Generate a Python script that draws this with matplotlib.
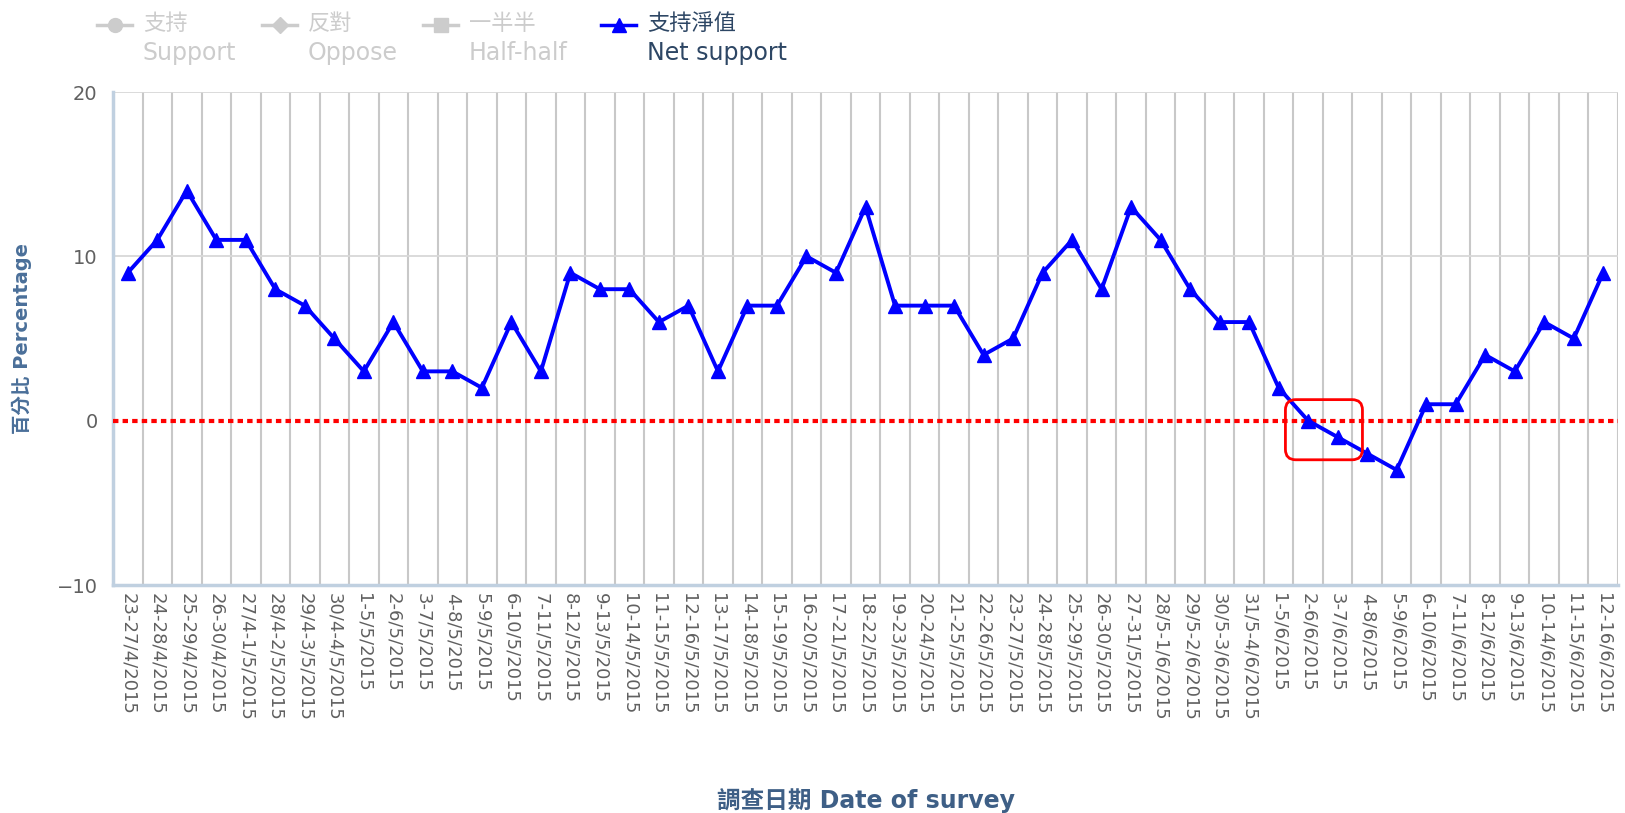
import numpy as np
import matplotlib.pyplot as plt
from matplotlib.lines import Line2D
from matplotlib.patches import FancyBboxPatch

plt.rcParams['font.family'] = ['DejaVu Sans', 'Noto Sans CJK TC']

# ------------------------------------------------------------
# Daten
# ------------------------------------------------------------
dates = [
    "23-27/4/2015", "24-28/4/2015", "25-29/4/2015", "26-30/4/2015",
    "27/4-1/5/2015", "28/4-2/5/2015", "29/4-3/5/2015", "30/4-4/5/2015",
    "1-5/5/2015", "2-6/5/2015", "3-7/5/2015", "4-8/5/2015", "5-9/5/2015",
    "6-10/5/2015", "7-11/5/2015", "8-12/5/2015", "9-13/5/2015",
    "10-14/5/2015", "11-15/5/2015", "12-16/5/2015", "13-17/5/2015",
    "14-18/5/2015", "15-19/5/2015", "16-20/5/2015", "17-21/5/2015",
    "18-22/5/2015", "19-23/5/2015", "20-24/5/2015", "21-25/5/2015",
    "22-26/5/2015", "23-27/5/2015", "24-28/5/2015", "25-29/5/2015",
    "26-30/5/2015", "27-31/5/2015", "28/5-1/6/2015", "29/5-2/6/2015",
    "30/5-3/6/2015", "31/5-4/6/2015", "1-5/6/2015", "2-6/6/2015",
    "3-7/6/2015", "4-8/6/2015", "5-9/6/2015", "6-10/6/2015", "7-11/6/2015",
    "8-12/6/2015", "9-13/6/2015", "10-14/6/2015", "11-15/6/2015",
    "12-16/6/2015",
]
net_support = [9, 11, 14, 11, 11, 8, 7, 5, 3, 6, 3, 3, 2, 6, 3, 9, 8, 8, 6,
               7, 3, 7, 7, 10, 9, 13, 7, 7, 7, 4, 5, 9, 11, 8, 13, 11, 8, 6,
               6, 2, 0, -1, -2, -3, 1, 1, 4, 3, 6, 5, 9]
highlight = ["2-6/6/2015", "3-7/6/2015"]

legend_cn = ["支持", "反對", "一半半", "支持淨值"]
legend_en = ["Support", "Oppose", "Half-half", "Net support"]
legend_marker = ["o", "D", "s", "^"]
legend_on = [False, False, False, True]

# ------------------------------------------------------------
# Plot
# ------------------------------------------------------------
W, H = 1625, 813
fig = plt.figure(figsize=(W / 100, H / 100), dpi=100)
ax = fig.add_axes([113 / W, 1 - 585 / H, (1618 - 113) / W, (585 - 92) / H])

x = np.arange(len(dates))
ax.plot(x, net_support, color='#0000ff', lw=2.8, marker='^', ms=10,
        zorder=4, clip_on=False)

ax.axhline(0, color='#ff0000', lw=3, ls=(0, (1.3, 1.0)), zorder=3)

ax.set_xlim(-0.5, len(dates) - 0.5)
ax.set_ylim(-10, 20)
ax.set_yticks([-10, 0, 10, 20])
ax.set_xticks(x)
ax.set_xticklabels(dates, rotation=270, fontsize=13, color='#606060')
ax.tick_params(axis='x', length=0, pad=6)
ax.tick_params(axis='y', length=0, pad=11, labelsize=14, labelcolor='#606060')

# Gitter: vertikal an Kategoriegrenzen
for b in np.arange(-0.5, len(dates)):
    ax.axvline(b, color='#c8c8c8', lw=1.5, zorder=1)
for yv in [10, 20]:
    ax.axhline(yv, color='#d8d8d8', lw=1.3, zorder=1)

for s in ['top', 'right']:
    ax.spines[s].set_visible(False)
for s in ['left', 'bottom']:
    ax.spines[s].set_color('#c0d0e0')
    ax.spines[s].set_linewidth(2.5)

fig.text(22 / W, 1 - 338 / H, '百分比 Percentage', fontsize=14,
         color='#4a6f99', fontweight='bold', rotation=90,
         ha='center', va='center')
fig.text(866 / W, 1 - 801 / H, '調查日期 Date of survey', fontsize=17,
         color='#3e5f86', fontweight='bold', ha='center', va='center')

# Markierung der Werte um 0
idx = [dates.index(d) for d in highlight]
vals = [net_support[i] for i in idx]
x0, x1 = min(idx) - 0.77, max(idx) + 0.84
y0, y1 = min(vals) - 1.38, max(vals) + 1.28
box = FancyBboxPatch((x0, y0), x1 - x0, y1 - y0,
                     boxstyle='round,pad=0,rounding_size=0.35',
                     mutation_aspect=29.5 / 16.4, fill=False,
                     edgecolor='#ff0000', lw=2, zorder=5)
ax.add_patch(box)

# Legende
lx = [97, 262, 423, 601]
for i in range(4):
    col = '#0000ff' if legend_on[i] else '#cccccc'
    tcol = '#2d4664' if legend_on[i] else '#cccccc'
    fig.add_artist(Line2D([lx[i] / W, (lx[i] + 35) / W],
                          [1 - 25 / H, 1 - 25 / H], color=col, lw=2.5))
    fig.add_artist(Line2D([(lx[i] + 17.5) / W], [1 - 25 / H], color=col,
                          marker=legend_marker[i], ms=10 if i != 1 else 8,
                          ls='none'))
    fig.text((lx[i] + 46) / W, 1 - 24 / H, legend_cn[i], fontsize=16,
             color=tcol, va='center', ha='left')
    fig.text((lx[i] + 46) / W, 1 - 53 / H, legend_en[i], fontsize=17,
             color=tcol, va='center', ha='left')

fig.savefig('out.png', dpi=100)
